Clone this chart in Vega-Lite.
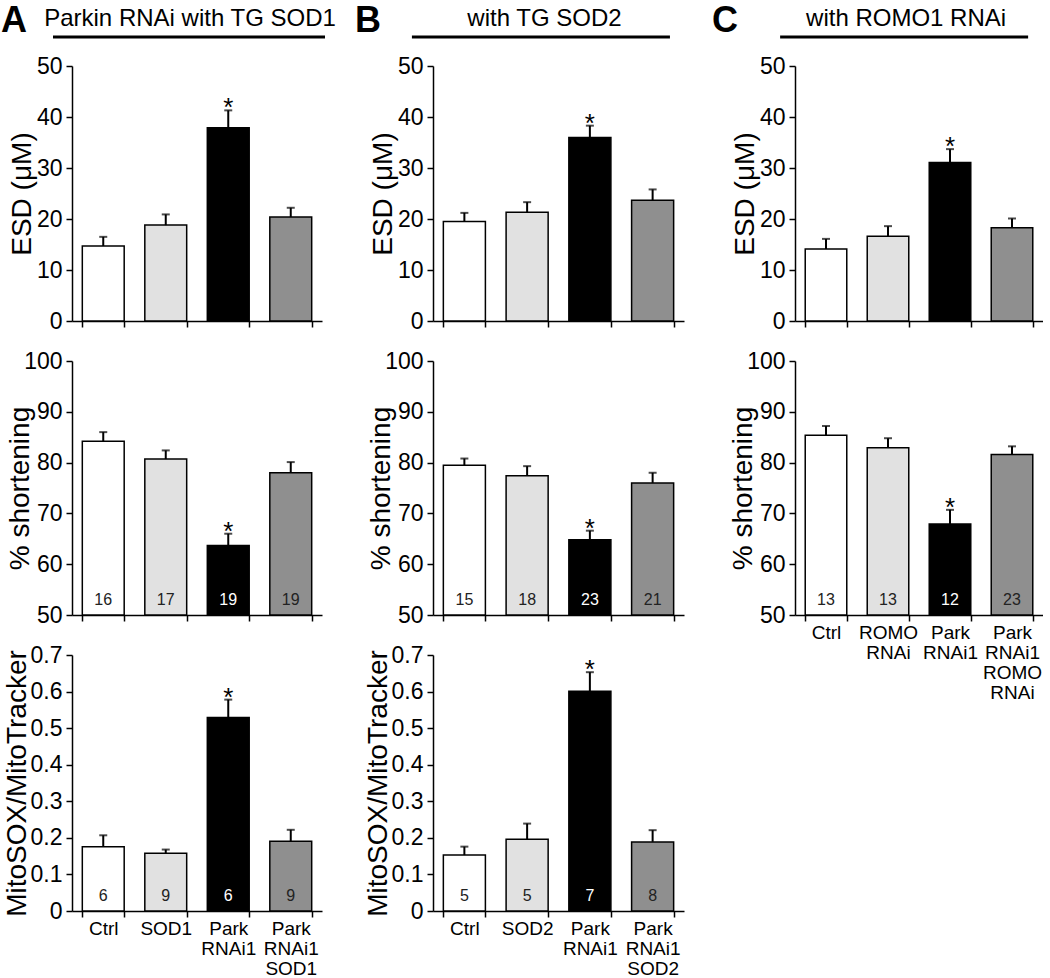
{
  "$schema": "https://vega.github.io/schema/vega-lite/v6.json",
  "background": "white",
  "padding": {"left": 1, "top": 2, "right": 0, "bottom": 0},
  "config": {
    "view": {"stroke": null},
    "font": "Liberation Sans",
    "text": {"font": "Liberation Sans", "color": "black"},
    "axis": {
      "domainColor": "black", "domainWidth": 1.5, "tickColor": "black", "tickWidth": 1.5, "tickSize": 6,
      "labelColor": "black", "titleColor": "black", "titleFontWeight": "normal", "grid": false,
      "labelFont": "Liberation Sans", "titleFont": "Liberation Sans"
    },
    "axisY": {"labelFontSize": 23, "labelPadding": 4, "titleFontSize": 28, "titleBaseline": "alphabetic", "titleAngle": -90, "titleAlign": "center", "labelOverlap": false},
    "axisX": {"labelFontSize": 19, "labelLineHeight": 20, "labelPadding": 2, "labelAngle": 0, "tickBand": "extent", "title": null}
  },
  "datasets": {
    "d": [
      {"panel": "A", "m": "esd", "order": 1, "label": "Ctrl", "value": 14.7, "hi": 16.5, "n": "", "star": ""},
      {"panel": "A", "m": "esd", "order": 2, "label": "SOD1", "value": 18.8, "hi": 20.9, "n": "", "star": ""},
      {"panel": "A", "m": "esd", "order": 3, "label": "Park|RNAi1", "value": 37.9, "hi": 41.3, "n": "", "star": "*"},
      {"panel": "A", "m": "esd", "order": 4, "label": "Park|RNAi1|SOD1", "value": 20.4, "hi": 22.2, "n": "", "star": ""},
      {"panel": "A", "m": "sh", "order": 1, "label": "Ctrl", "value": 84.2, "hi": 86.0, "n": "16", "star": ""},
      {"panel": "A", "m": "sh", "order": 2, "label": "SOD1", "value": 80.7, "hi": 82.4, "n": "17", "star": ""},
      {"panel": "A", "m": "sh", "order": 3, "label": "Park|RNAi1", "value": 63.7, "hi": 66.0, "n": "19", "star": "*"},
      {"panel": "A", "m": "sh", "order": 4, "label": "Park|RNAi1|SOD1", "value": 78.0, "hi": 80.1, "n": "19", "star": ""},
      {"panel": "A", "m": "mito", "order": 1, "label": "Ctrl", "value": 0.176, "hi": 0.207, "n": "6", "star": ""},
      {"panel": "A", "m": "mito", "order": 2, "label": "SOD1", "value": 0.158, "hi": 0.168, "n": "9", "star": ""},
      {"panel": "A", "m": "mito", "order": 3, "label": "Park|RNAi1", "value": 0.529, "hi": 0.578, "n": "6", "star": "*"},
      {"panel": "A", "m": "mito", "order": 4, "label": "Park|RNAi1|SOD1", "value": 0.191, "hi": 0.222, "n": "9", "star": ""},
      {"panel": "B", "m": "esd", "order": 1, "label": "Ctrl", "value": 19.5, "hi": 21.2, "n": "", "star": ""},
      {"panel": "B", "m": "esd", "order": 2, "label": "SOD2", "value": 21.3, "hi": 23.3, "n": "", "star": ""},
      {"panel": "B", "m": "esd", "order": 3, "label": "Park|RNAi1", "value": 36.0, "hi": 38.3, "n": "", "star": "*"},
      {"panel": "B", "m": "esd", "order": 4, "label": "Park|RNAi1|SOD2", "value": 23.7, "hi": 25.8, "n": "", "star": ""},
      {"panel": "B", "m": "sh", "order": 1, "label": "Ctrl", "value": 79.5, "hi": 80.8, "n": "15", "star": ""},
      {"panel": "B", "m": "sh", "order": 2, "label": "SOD2", "value": 77.4, "hi": 79.3, "n": "18", "star": ""},
      {"panel": "B", "m": "sh", "order": 3, "label": "Park|RNAi1", "value": 64.8, "hi": 66.6, "n": "23", "star": "*"},
      {"panel": "B", "m": "sh", "order": 4, "label": "Park|RNAi1|SOD2", "value": 76.0, "hi": 78.0, "n": "21", "star": ""},
      {"panel": "B", "m": "mito", "order": 1, "label": "Ctrl", "value": 0.153, "hi": 0.176, "n": "5", "star": ""},
      {"panel": "B", "m": "mito", "order": 2, "label": "SOD2", "value": 0.196, "hi": 0.239, "n": "5", "star": ""},
      {"panel": "B", "m": "mito", "order": 3, "label": "Park|RNAi1", "value": 0.601, "hi": 0.653, "n": "7", "star": "*"},
      {"panel": "B", "m": "mito", "order": 4, "label": "Park|RNAi1|SOD2", "value": 0.189, "hi": 0.221, "n": "8", "star": ""},
      {"panel": "C", "m": "esd", "order": 1, "label": "Ctrl", "value": 14.1, "hi": 16.1, "n": "", "star": ""},
      {"panel": "C", "m": "esd", "order": 2, "label": "ROMO|RNAi", "value": 16.6, "hi": 18.6, "n": "", "star": ""},
      {"panel": "C", "m": "esd", "order": 3, "label": "Park|RNAi1", "value": 31.1, "hi": 33.7, "n": "", "star": "*"},
      {"panel": "C", "m": "esd", "order": 4, "label": "Park|RNAi1|ROMO|RNAi", "value": 18.3, "hi": 20.1, "n": "", "star": ""},
      {"panel": "C", "m": "sh", "order": 1, "label": "Ctrl", "value": 85.4, "hi": 87.2, "n": "13", "star": ""},
      {"panel": "C", "m": "sh", "order": 2, "label": "ROMO|RNAi", "value": 82.9, "hi": 84.8, "n": "13", "star": ""},
      {"panel": "C", "m": "sh", "order": 3, "label": "Park|RNAi1", "value": 67.9, "hi": 70.7, "n": "12", "star": "*"},
      {"panel": "C", "m": "sh", "order": 4, "label": "Park|RNAi1|ROMO|RNAi", "value": 81.6, "hi": 83.2, "n": "23", "star": ""}
    ]
  },
  "columns": 3,
  "spacing": {"row": 40, "column": 111},
  "bounds": "flush",
  "align": "each",
  "resolve": {"scale": {"x": "independent", "y": "independent"}},
  "concat": [
    {
      "width": 250, "height": 22,
      "data": {"values": [{"letter": "A", "title": "Parkin RNAi with TG SOD1"}]},
      "layer": [
        {"mark": {"type": "text", "fontSize": 36, "fontWeight": "bold", "align": "left", "baseline": "alphabetic"},
         "encoding": {"x": {"datum": -0.284, "type": "quantitative", "scale": {"domain": [0, 1]}, "axis": null},
                      "y": {"datum": -0.27, "type": "quantitative", "scale": {"domain": [0, 1]}, "axis": null},
                      "text": {"field": "letter"}}},
        {"mark": {"type": "text", "fontSize": 24, "align": "center", "baseline": "alphabetic"},
         "encoding": {"x": {"datum": 0.472, "type": "quantitative", "axis": null},
                      "y": {"datum": 0, "type": "quantitative", "axis": null},
                      "text": {"field": "title"}}},
        {"mark": {"type": "rule", "strokeWidth": 3, "color": "black"},
         "encoding": {"x": {"datum": -0.076, "type": "quantitative", "axis": null}, "x2": {"datum": 1.012},
                      "y": {"datum": -0.5, "type": "quantitative", "axis": null}}}
      ]
    },
    {
      "width": 251, "height": 22,
      "data": {"values": [{"letter": "B", "title": "with TG SOD2"}]},
      "layer": [
        {"mark": {"type": "text", "fontSize": 36, "fontWeight": "bold", "align": "left", "baseline": "alphabetic"},
         "encoding": {"x": {"datum": -0.311, "type": "quantitative", "scale": {"domain": [0, 1]}, "axis": null},
                      "y": {"datum": -0.27, "type": "quantitative", "scale": {"domain": [0, 1]}, "axis": null},
                      "text": {"field": "letter"}}},
        {"mark": {"type": "text", "fontSize": 24, "align": "center", "baseline": "alphabetic"},
         "encoding": {"x": {"datum": 0.444, "type": "quantitative", "axis": null},
                      "y": {"datum": 0, "type": "quantitative", "axis": null},
                      "text": {"field": "title"}}},
        {"mark": {"type": "rule", "strokeWidth": 3, "color": "black"},
         "encoding": {"x": {"datum": -0.084, "type": "quantitative", "axis": null}, "x2": {"datum": 0.944},
                      "y": {"datum": -0.5, "type": "quantitative", "axis": null}}}
      ]
    },
    {
      "width": 248, "height": 22,
      "data": {"values": [{"letter": "C", "title": "with ROMO1 RNAi"}]},
      "layer": [
        {"mark": {"type": "text", "fontSize": 36, "fontWeight": "bold", "align": "left", "baseline": "alphabetic"},
         "encoding": {"x": {"datum": -0.335, "type": "quantitative", "scale": {"domain": [0, 1]}, "axis": null},
                      "y": {"datum": -0.27, "type": "quantitative", "scale": {"domain": [0, 1]}, "axis": null},
                      "text": {"field": "letter"}}},
        {"mark": {"type": "text", "fontSize": 24, "align": "center", "baseline": "alphabetic"},
         "encoding": {"x": {"datum": 0.448, "type": "quantitative", "axis": null},
                      "y": {"datum": 0, "type": "quantitative", "axis": null},
                      "text": {"field": "title"}}},
        {"mark": {"type": "rule", "strokeWidth": 3, "color": "black"},
         "encoding": {"x": {"datum": -0.06, "type": "quantitative", "axis": null}, "x2": {"datum": 0.94},
                      "y": {"datum": -0.5, "type": "quantitative", "axis": null}}}
      ]
    },
    {
      "width": 250, "height": 255,
      "data": {"name": "d"},
      "transform": [{"filter": "datum.panel == 'A' && datum.m == 'esd'"}],
      "encoding": {"x": {"field": "label", "type": "nominal", "sort": {"field": "order"}, "scale": {"paddingInner": 0.33, "paddingOuter": 0.165}, "axis": {"labels": false}}},
      "layer": [
        {"mark": {"type": "bar", "stroke": "black", "strokeWidth": 1.5},
         "encoding": {"y": {"field": "value", "type": "quantitative", "scale": {"domain": [0, 50]}, "axis": {"title": "ESD (μM)", "values": [0, 10, 20, 30, 40, 50], "titleX": -42, "titleY": 127.5}},
                      "fill": {"field": "order", "type": "nominal", "scale": {"domain": [1, 2, 3, 4], "range": ["#ffffff", "#e1e1e1", "#000000", "#8f8f8f"]}, "legend": null}}},
        {"mark": {"type": "rule", "strokeWidth": 2, "color": "black"},
         "encoding": {"y": {"field": "value", "type": "quantitative", "axis": {"title": "ESD (μM)", "values": [0, 10, 20, 30, 40, 50], "titleX": -42, "titleY": 127.5}}, "y2": {"field": "hi"}}},
        {"mark": {"type": "tick", "orient": "horizontal", "size": 8, "thickness": 2, "color": "black"},
         "encoding": {"y": {"field": "hi", "type": "quantitative", "axis": {"title": "ESD (μM)", "values": [0, 10, 20, 30, 40, 50], "titleX": -42, "titleY": 127.5}}}},
        {"mark": {"type": "text", "fontSize": 26, "dy": 6, "baseline": "alphabetic"},
         "encoding": {"y": {"field": "hi", "type": "quantitative", "axis": {"title": "ESD (μM)", "values": [0, 10, 20, 30, 40, 50], "titleX": -42, "titleY": 127.5}}, "text": {"field": "star"}}}
      ]
    },
    {
      "width": 251, "height": 255,
      "data": {"name": "d"},
      "transform": [{"filter": "datum.panel == 'B' && datum.m == 'esd'"}],
      "encoding": {"x": {"field": "label", "type": "nominal", "sort": {"field": "order"}, "scale": {"paddingInner": 0.33, "paddingOuter": 0.165}, "axis": {"labels": false}}},
      "layer": [
        {"mark": {"type": "bar", "stroke": "black", "strokeWidth": 1.5},
         "encoding": {"y": {"field": "value", "type": "quantitative", "scale": {"domain": [0, 50]}, "axis": {"title": "ESD (μM)", "values": [0, 10, 20, 30, 40, 50], "titleX": -42, "titleY": 127.5}},
                      "fill": {"field": "order", "type": "nominal", "scale": {"domain": [1, 2, 3, 4], "range": ["#ffffff", "#e1e1e1", "#000000", "#8f8f8f"]}, "legend": null}}},
        {"mark": {"type": "rule", "strokeWidth": 2, "color": "black"},
         "encoding": {"y": {"field": "value", "type": "quantitative", "axis": {"title": "ESD (μM)", "values": [0, 10, 20, 30, 40, 50], "titleX": -42, "titleY": 127.5}}, "y2": {"field": "hi"}}},
        {"mark": {"type": "tick", "orient": "horizontal", "size": 8, "thickness": 2, "color": "black"},
         "encoding": {"y": {"field": "hi", "type": "quantitative", "axis": {"title": "ESD (μM)", "values": [0, 10, 20, 30, 40, 50], "titleX": -42, "titleY": 127.5}}}},
        {"mark": {"type": "text", "fontSize": 26, "dy": 6, "baseline": "alphabetic"},
         "encoding": {"y": {"field": "hi", "type": "quantitative", "axis": {"title": "ESD (μM)", "values": [0, 10, 20, 30, 40, 50], "titleX": -42, "titleY": 127.5}}, "text": {"field": "star"}}}
      ]
    },
    {
      "width": 248, "height": 255,
      "data": {"name": "d"},
      "transform": [{"filter": "datum.panel == 'C' && datum.m == 'esd'"}],
      "encoding": {"x": {"field": "label", "type": "nominal", "sort": {"field": "order"}, "scale": {"paddingInner": 0.33, "paddingOuter": 0.165}, "axis": {"labels": false}}},
      "layer": [
        {"mark": {"type": "bar", "stroke": "black", "strokeWidth": 1.5},
         "encoding": {"y": {"field": "value", "type": "quantitative", "scale": {"domain": [0, 50]}, "axis": {"title": "ESD (μM)", "values": [0, 10, 20, 30, 40, 50], "titleX": -42, "titleY": 127.5}},
                      "fill": {"field": "order", "type": "nominal", "scale": {"domain": [1, 2, 3, 4], "range": ["#ffffff", "#e1e1e1", "#000000", "#8f8f8f"]}, "legend": null}}},
        {"mark": {"type": "rule", "strokeWidth": 2, "color": "black"},
         "encoding": {"y": {"field": "value", "type": "quantitative", "axis": {"title": "ESD (μM)", "values": [0, 10, 20, 30, 40, 50], "titleX": -42, "titleY": 127.5}}, "y2": {"field": "hi"}}},
        {"mark": {"type": "tick", "orient": "horizontal", "size": 8, "thickness": 2, "color": "black"},
         "encoding": {"y": {"field": "hi", "type": "quantitative", "axis": {"title": "ESD (μM)", "values": [0, 10, 20, 30, 40, 50], "titleX": -42, "titleY": 127.5}}}},
        {"mark": {"type": "text", "fontSize": 26, "dy": 6, "baseline": "alphabetic"},
         "encoding": {"y": {"field": "hi", "type": "quantitative", "axis": {"title": "ESD (μM)", "values": [0, 10, 20, 30, 40, 50], "titleX": -42, "titleY": 127.5}}, "text": {"field": "star"}}}
      ]
    },
    {
      "width": 250, "height": 254,
      "data": {"name": "d"},
      "transform": [{"filter": "datum.panel == 'A' && datum.m == 'sh'"}],
      "encoding": {"x": {"field": "label", "type": "nominal", "sort": {"field": "order"}, "scale": {"paddingInner": 0.33, "paddingOuter": 0.165}, "axis": {"labels": false}}},
      "layer": [
        {"mark": {"type": "bar", "stroke": "black", "strokeWidth": 1.5},
         "encoding": {"y": {"field": "value", "type": "quantitative", "scale": {"domain": [50, 100]}, "axis": {"title": "% shortening", "values": [50, 60, 70, 80, 90, 100], "titleX": -44, "titleY": 127}},
                      "y2": {"datum": 50},
                      "fill": {"field": "order", "type": "nominal", "scale": {"domain": [1, 2, 3, 4], "range": ["#ffffff", "#e1e1e1", "#000000", "#8f8f8f"]}, "legend": null}}},
        {"mark": {"type": "rule", "strokeWidth": 2, "color": "black"},
         "encoding": {"y": {"field": "value", "type": "quantitative", "axis": {"title": "% shortening", "values": [50, 60, 70, 80, 90, 100], "titleX": -44, "titleY": 127}}, "y2": {"field": "hi"}}},
        {"mark": {"type": "tick", "orient": "horizontal", "size": 8, "thickness": 2, "color": "black"},
         "encoding": {"y": {"field": "hi", "type": "quantitative", "axis": {"title": "% shortening", "values": [50, 60, 70, 80, 90, 100], "titleX": -44, "titleY": 127}}}},
        {"mark": {"type": "text", "fontSize": 26, "dy": 6, "baseline": "alphabetic"},
         "encoding": {"y": {"field": "hi", "type": "quantitative", "axis": {"title": "% shortening", "values": [50, 60, 70, 80, 90, 100], "titleX": -44, "titleY": 127}}, "text": {"field": "star"}}},
        {"mark": {"type": "text", "fontSize": 16, "dy": -10, "baseline": "alphabetic"},
         "encoding": {"y": {"datum": 50, "type": "quantitative", "axis": {"title": "% shortening", "values": [50, 60, 70, 80, 90, 100], "titleX": -44, "titleY": 127}}, "text": {"field": "n"},
                      "color": {"condition": {"test": "datum.order == 3", "value": "white"}, "value": "#222222"}}}
      ]
    },
    {
      "width": 251, "height": 254,
      "data": {"name": "d"},
      "transform": [{"filter": "datum.panel == 'B' && datum.m == 'sh'"}],
      "encoding": {"x": {"field": "label", "type": "nominal", "sort": {"field": "order"}, "scale": {"paddingInner": 0.33, "paddingOuter": 0.165}, "axis": {"labels": false}}},
      "layer": [
        {"mark": {"type": "bar", "stroke": "black", "strokeWidth": 1.5},
         "encoding": {"y": {"field": "value", "type": "quantitative", "scale": {"domain": [50, 100]}, "axis": {"title": "% shortening", "values": [50, 60, 70, 80, 90, 100], "titleX": -44, "titleY": 127}},
                      "y2": {"datum": 50},
                      "fill": {"field": "order", "type": "nominal", "scale": {"domain": [1, 2, 3, 4], "range": ["#ffffff", "#e1e1e1", "#000000", "#8f8f8f"]}, "legend": null}}},
        {"mark": {"type": "rule", "strokeWidth": 2, "color": "black"},
         "encoding": {"y": {"field": "value", "type": "quantitative", "axis": {"title": "% shortening", "values": [50, 60, 70, 80, 90, 100], "titleX": -44, "titleY": 127}}, "y2": {"field": "hi"}}},
        {"mark": {"type": "tick", "orient": "horizontal", "size": 8, "thickness": 2, "color": "black"},
         "encoding": {"y": {"field": "hi", "type": "quantitative", "axis": {"title": "% shortening", "values": [50, 60, 70, 80, 90, 100], "titleX": -44, "titleY": 127}}}},
        {"mark": {"type": "text", "fontSize": 26, "dy": 6, "baseline": "alphabetic"},
         "encoding": {"y": {"field": "hi", "type": "quantitative", "axis": {"title": "% shortening", "values": [50, 60, 70, 80, 90, 100], "titleX": -44, "titleY": 127}}, "text": {"field": "star"}}},
        {"mark": {"type": "text", "fontSize": 16, "dy": -10, "baseline": "alphabetic"},
         "encoding": {"y": {"datum": 50, "type": "quantitative", "axis": {"title": "% shortening", "values": [50, 60, 70, 80, 90, 100], "titleX": -44, "titleY": 127}}, "text": {"field": "n"},
                      "color": {"condition": {"test": "datum.order == 3", "value": "white"}, "value": "#222222"}}}
      ]
    },
    {
      "width": 248, "height": 254,
      "data": {"name": "d"},
      "transform": [{"filter": "datum.panel == 'C' && datum.m == 'sh'"}],
      "encoding": {"x": {"field": "label", "type": "nominal", "sort": {"field": "order"}, "scale": {"paddingInner": 0.33, "paddingOuter": 0.165}, "axis": {"labelExpr": "split(datum.label, '|')"}}},
      "layer": [
        {"mark": {"type": "bar", "stroke": "black", "strokeWidth": 1.5},
         "encoding": {"y": {"field": "value", "type": "quantitative", "scale": {"domain": [50, 100]}, "axis": {"title": "% shortening", "values": [50, 60, 70, 80, 90, 100], "titleX": -44, "titleY": 127}},
                      "y2": {"datum": 50},
                      "fill": {"field": "order", "type": "nominal", "scale": {"domain": [1, 2, 3, 4], "range": ["#ffffff", "#e1e1e1", "#000000", "#8f8f8f"]}, "legend": null}}},
        {"mark": {"type": "rule", "strokeWidth": 2, "color": "black"},
         "encoding": {"y": {"field": "value", "type": "quantitative", "axis": {"title": "% shortening", "values": [50, 60, 70, 80, 90, 100], "titleX": -44, "titleY": 127}}, "y2": {"field": "hi"}}},
        {"mark": {"type": "tick", "orient": "horizontal", "size": 8, "thickness": 2, "color": "black"},
         "encoding": {"y": {"field": "hi", "type": "quantitative", "axis": {"title": "% shortening", "values": [50, 60, 70, 80, 90, 100], "titleX": -44, "titleY": 127}}}},
        {"mark": {"type": "text", "fontSize": 26, "dy": 6, "baseline": "alphabetic"},
         "encoding": {"y": {"field": "hi", "type": "quantitative", "axis": {"title": "% shortening", "values": [50, 60, 70, 80, 90, 100], "titleX": -44, "titleY": 127}}, "text": {"field": "star"}}},
        {"mark": {"type": "text", "fontSize": 16, "dy": -10, "baseline": "alphabetic"},
         "encoding": {"y": {"datum": 50, "type": "quantitative", "axis": {"title": "% shortening", "values": [50, 60, 70, 80, 90, 100], "titleX": -44, "titleY": 127}}, "text": {"field": "n"},
                      "color": {"condition": {"test": "datum.order == 3", "value": "white"}, "value": "#222222"}}}
      ]
    },
    {
      "width": 250, "height": 256,
      "data": {"name": "d"},
      "transform": [{"filter": "datum.panel == 'A' && datum.m == 'mito'"}],
      "encoding": {"x": {"field": "label", "type": "nominal", "sort": {"field": "order"}, "scale": {"paddingInner": 0.33, "paddingOuter": 0.165}, "axis": {"labelExpr": "split(datum.label, '|')"}}},
      "layer": [
        {"mark": {"type": "bar", "stroke": "black", "strokeWidth": 1.5},
         "encoding": {"y": {"field": "value", "type": "quantitative", "scale": {"domain": [0, 0.7]}, "axis": {"title": "MitoSOX/MitoTracker", "values": [0, 0.1, 0.2, 0.3, 0.4, 0.5, 0.6, 0.7], "format": ".1~f", "titleX": -47, "titleY": 128}},
                      "fill": {"field": "order", "type": "nominal", "scale": {"domain": [1, 2, 3, 4], "range": ["#ffffff", "#e1e1e1", "#000000", "#8f8f8f"]}, "legend": null}}},
        {"mark": {"type": "rule", "strokeWidth": 2, "color": "black"},
         "encoding": {"y": {"field": "value", "type": "quantitative", "axis": {"title": "MitoSOX/MitoTracker", "values": [0, 0.1, 0.2, 0.3, 0.4, 0.5, 0.6, 0.7], "format": ".1~f", "titleX": -47, "titleY": 128}}, "y2": {"field": "hi"}}},
        {"mark": {"type": "tick", "orient": "horizontal", "size": 8, "thickness": 2, "color": "black"},
         "encoding": {"y": {"field": "hi", "type": "quantitative", "axis": {"title": "MitoSOX/MitoTracker", "values": [0, 0.1, 0.2, 0.3, 0.4, 0.5, 0.6, 0.7], "format": ".1~f", "titleX": -47, "titleY": 128}}}},
        {"mark": {"type": "text", "fontSize": 26, "dy": 6, "baseline": "alphabetic"},
         "encoding": {"y": {"field": "hi", "type": "quantitative", "axis": {"title": "MitoSOX/MitoTracker", "values": [0, 0.1, 0.2, 0.3, 0.4, 0.5, 0.6, 0.7], "format": ".1~f", "titleX": -47, "titleY": 128}}, "text": {"field": "star"}}},
        {"mark": {"type": "text", "fontSize": 16, "dy": -10, "baseline": "alphabetic"},
         "encoding": {"y": {"datum": 0, "type": "quantitative", "axis": {"title": "MitoSOX/MitoTracker", "values": [0, 0.1, 0.2, 0.3, 0.4, 0.5, 0.6, 0.7], "format": ".1~f", "titleX": -47, "titleY": 128}}, "text": {"field": "n"},
                      "color": {"condition": {"test": "datum.order == 3", "value": "white"}, "value": "#222222"}}}
      ]
    },
    {
      "width": 251, "height": 256,
      "data": {"name": "d"},
      "transform": [{"filter": "datum.panel == 'B' && datum.m == 'mito'"}],
      "encoding": {"x": {"field": "label", "type": "nominal", "sort": {"field": "order"}, "scale": {"paddingInner": 0.33, "paddingOuter": 0.165}, "axis": {"labelExpr": "split(datum.label, '|')"}}},
      "layer": [
        {"mark": {"type": "bar", "stroke": "black", "strokeWidth": 1.5},
         "encoding": {"y": {"field": "value", "type": "quantitative", "scale": {"domain": [0, 0.7]}, "axis": {"title": "MitoSOX/MitoTracker", "values": [0, 0.1, 0.2, 0.3, 0.4, 0.5, 0.6, 0.7], "format": ".1~f", "titleX": -47, "titleY": 128}},
                      "fill": {"field": "order", "type": "nominal", "scale": {"domain": [1, 2, 3, 4], "range": ["#ffffff", "#e1e1e1", "#000000", "#8f8f8f"]}, "legend": null}}},
        {"mark": {"type": "rule", "strokeWidth": 2, "color": "black"},
         "encoding": {"y": {"field": "value", "type": "quantitative", "axis": {"title": "MitoSOX/MitoTracker", "values": [0, 0.1, 0.2, 0.3, 0.4, 0.5, 0.6, 0.7], "format": ".1~f", "titleX": -47, "titleY": 128}}, "y2": {"field": "hi"}}},
        {"mark": {"type": "tick", "orient": "horizontal", "size": 8, "thickness": 2, "color": "black"},
         "encoding": {"y": {"field": "hi", "type": "quantitative", "axis": {"title": "MitoSOX/MitoTracker", "values": [0, 0.1, 0.2, 0.3, 0.4, 0.5, 0.6, 0.7], "format": ".1~f", "titleX": -47, "titleY": 128}}}},
        {"mark": {"type": "text", "fontSize": 26, "dy": 6, "baseline": "alphabetic"},
         "encoding": {"y": {"field": "hi", "type": "quantitative", "axis": {"title": "MitoSOX/MitoTracker", "values": [0, 0.1, 0.2, 0.3, 0.4, 0.5, 0.6, 0.7], "format": ".1~f", "titleX": -47, "titleY": 128}}, "text": {"field": "star"}}},
        {"mark": {"type": "text", "fontSize": 16, "dy": -10, "baseline": "alphabetic"},
         "encoding": {"y": {"datum": 0, "type": "quantitative", "axis": {"title": "MitoSOX/MitoTracker", "values": [0, 0.1, 0.2, 0.3, 0.4, 0.5, 0.6, 0.7], "format": ".1~f", "titleX": -47, "titleY": 128}}, "text": {"field": "n"},
                      "color": {"condition": {"test": "datum.order == 3", "value": "white"}, "value": "#222222"}}}
      ]
    }
  ]
}
